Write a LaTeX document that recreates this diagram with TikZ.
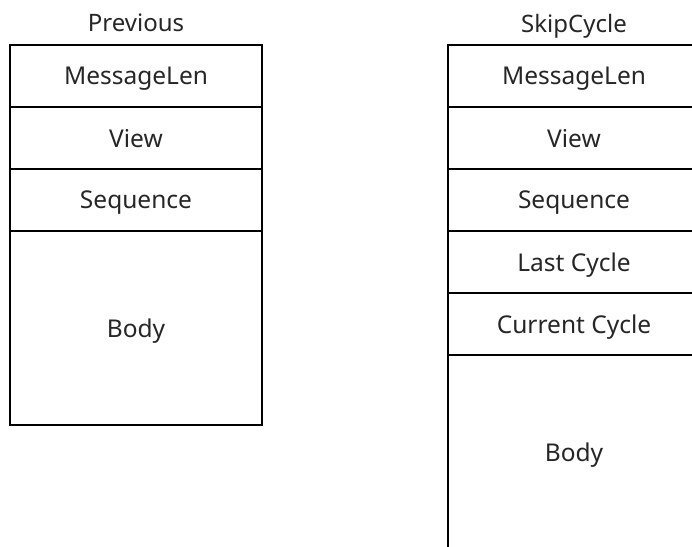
\documentclass[tikz,border=0pt]{standalone}
\usepackage{fontspec}
\setmainfont{Noto Sans}
\usetikzlibrary{positioning}
\begin{document}
\begin{tikzpicture}[
			x=1pt, y=-1pt,
			node distance=0pt,
			field/.style={rectangle, draw, line width=2.8pt, outer sep=0pt, align=center, minimum width=252pt, minimum height=62pt, text depth=0pt, text=black!85, font=\fontsize{24.5}{28}\selectfont},
			body/.style={field, minimum height=194pt},
			title/.style={text=black!85, text depth=0pt, font=\fontsize{24}{28}\selectfont}
			]
			
			\clip (0,0) rectangle (692,546);
			\useasboundingbox (0,0) rectangle (692,546);
			
			% Previous layout
			\node[title] (prevtitle) at (136,23) {Previous};
			\node[field, anchor=north west] (prevlen) at (10,45) {MessageLen};
			\node[field, below=of prevlen] (prevview) {View};
			\node[field, below=of prevview] (prevseq) {Sequence};
			\node[body, below=of prevseq] (prevbody) {Body};
			
			% SkipCycle layout
			\node[title] (skiptitle) at (574,23) {SkipCycle};
			\node[field, anchor=north west] (skiplen) at (448,45) {MessageLen};
			\node[field, below=of skiplen] (skipview) {View};
			\node[field, below=of skipview] (skipseq) {Sequence};
			\node[field, below=of skipseq] (skiplast) {Last Cycle};
			\node[field, below=of skiplast] (skipcur) {Current Cycle};
			\node[body, below=of skipcur] (skipbody) {Body};
			
		\end{tikzpicture}
\end{document}
